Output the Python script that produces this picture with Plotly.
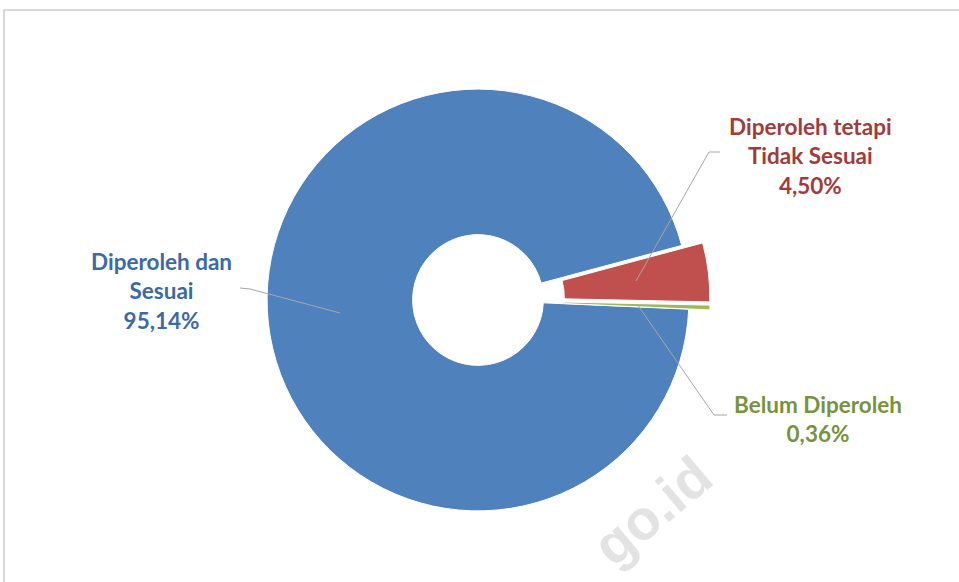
import plotly.graph_objects as go

# Status of the item: obtained & matching, obtained but not matching, not yet obtained
categories = ["Diperoleh dan Sesuai", "Diperoleh tetapi Tidak Sesuai", "Belum Diperoleh"]
label_lines = [["Diperoleh dan", "Sesuai"], ["Diperoleh tetapi", "Tidak Sesuai"], ["Belum Diperoleh"]]
values = [95.14, 4.50, 0.36]
slice_colors = ["#4F81BD", "#C0504D", "#9BBB59"]
text_colors = ["#3C6AA3", "#A23B3A", "#77933C"]
pulls = [0, 0.1, 0.1]

W, H = 959, 582


def px(x):
    return x / W


def py(y):
    return 1 - y / H


fig = go.Figure(
    go.Pie(
        labels=categories,
        values=values,
        marker=dict(colors=slice_colors, line=dict(color="white", width=1)),
        hole=0.31,
        pull=pulls,
        sort=False,
        direction="clockwise",
        rotation=92.5,
        textinfo="none",
        hoverinfo="label+percent",
        showlegend=False,
        domain=dict(x=[px(246), px(710)], y=[py(532), py(68)]),
    )
)


def fmt(v):
    return f"{v:.2f}".replace(".", ",") + "%"


annotations = []

# faint watermark, drawn first so the labels sit above it
annotations.append(
    dict(
        x=px(652), y=py(510), xref="paper", yref="paper",
        xanchor="center", yanchor="middle",
        text="<b>go.id</b>", showarrow=False, textangle=-40,
        font=dict(family="Liberation Sans", size=56, color="#E3E3E3"),
    )
)

label_pos = [(161, 291), (810, 156), (818, 419)]
for lines, v, c, (lx, ly) in zip(label_lines, values, text_colors, label_pos):
    annotations.append(
        dict(
            x=px(lx), y=py(ly), xref="paper", yref="paper",
            xanchor="center", yanchor="middle",
            text="<b>" + "<br>".join(lines + [fmt(v)]) + "</b>",
            showarrow=False, align="center",
            font=dict(family="Lato", size=22.5, color=c),
        )
    )

leaders = [
    [(240, 288), (250, 289), (340, 313)],
    [(720, 152), (709, 152), (636, 281)],
    [(637, 304), (714, 415), (727, 415)],
]
shapes = []
for pts in leaders:
    path = "M " + " L ".join(f"{px(x)},{py(y)}" for x, y in pts)
    shapes.append(dict(type="path", xref="paper", yref="paper", path=path,
                       line=dict(color="#A6A6A6", width=1)))

# chart frame edges
shapes.append(dict(type="line", xref="paper", yref="paper", x0=px(3), y0=py(10), x1=1, y1=py(10),
                   line=dict(color="#D9D9D9", width=2)))
shapes.append(dict(type="line", xref="paper", yref="paper", x0=px(4), y0=py(10), x1=px(4), y1=0,
                   line=dict(color="#D9D9D9", width=2)))

fig.update_layout(
    width=W, height=H,
    margin=dict(l=0, r=0, t=0, b=0),
    paper_bgcolor="white", plot_bgcolor="white",
    annotations=annotations, shapes=shapes,
)

fig.write_html("out.html")
